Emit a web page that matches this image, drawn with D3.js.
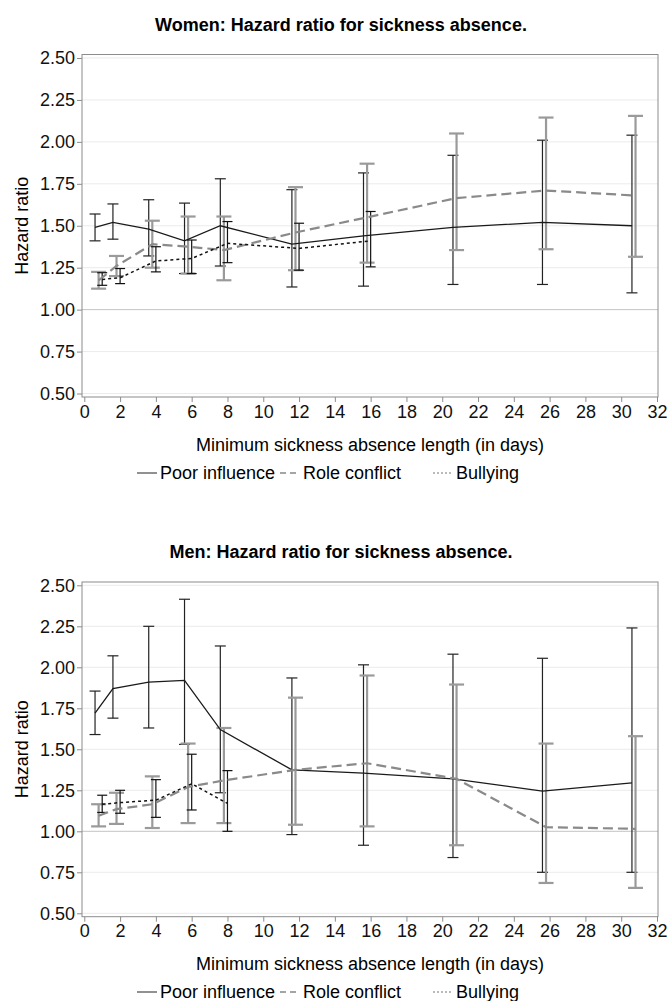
<!DOCTYPE html>
<html>
<head>
<meta charset="utf-8">
<script src="https://cdn.jsdelivr.net/npm/d3@7"></script>
<style>
  body { margin: 0; background: #fff; }
  svg { display: block; font-family: "Liberation Sans", Arial, sans-serif; }
</style>
</head>
<body>
<div id="chart"></div>
<script>
// minimum sickness absence length (days) at which each HR was estimated
const days = [1, 2, 4, 6, 8, 12, 16, 21, 26, 31];
const bullyDaysW = [1, 2, 4, 6, 8, 12, 16];
const bullyDaysM = [1, 2, 4, 6, 8];
const yTicks = [0.5, 0.75, 1.0, 1.25, 1.5, 1.75, 2.0, 2.25, 2.5];
const xTicks = d3.range(0, 33, 2);
const legendLabels = ["Poor influence", "Role conflict", "Bullying"];

// Women
const womenPoorHR = [1.49, 1.52, 1.48, 1.41, 1.50, 1.39, 1.44, 1.49, 1.52, 1.50];
const womenPoorLo = [1.41, 1.42, 1.32, 1.215, 1.26, 1.135, 1.14, 1.15, 1.15, 1.10];
const womenPoorHi = [1.57, 1.63, 1.655, 1.635, 1.78, 1.715, 1.815, 1.92, 2.01, 2.04];
const womenRoleHR = [1.175, 1.26, 1.39, 1.375, 1.355, 1.46, 1.55, 1.665, 1.71, 1.68];
const womenRoleLo = [1.125, 1.20, 1.25, 1.215, 1.175, 1.235, 1.28, 1.355, 1.36, 1.315];
const womenRoleHi = [1.225, 1.32, 1.53, 1.555, 1.555, 1.73, 1.87, 2.05, 2.145, 2.155];
const womenBullyHR = [1.18, 1.19, 1.29, 1.305, 1.395, 1.365, 1.41];
const womenBullyLo = [1.145, 1.155, 1.225, 1.215, 1.28, 1.235, 1.255];
const womenBullyHi = [1.22, 1.245, 1.375, 1.415, 1.525, 1.515, 1.585];

// Men
const menPoorHR = [1.72, 1.87, 1.91, 1.92, 1.62, 1.375, 1.355, 1.32, 1.245, 1.295];
const menPoorLo = [1.59, 1.69, 1.63, 1.53, 1.235, 0.98, 0.915, 0.84, 0.75, 0.75];
const menPoorHi = [1.855, 2.07, 2.25, 2.415, 2.13, 1.935, 2.015, 2.08, 2.055, 2.24];
const menRoleHR = [1.095, 1.135, 1.165, 1.27, 1.31, 1.375, 1.415, 1.32, 1.025, 1.015];
const menRoleLo = [1.03, 1.045, 1.02, 1.05, 1.05, 1.04, 1.03, 0.915, 0.685, 0.655];
const menRoleHi = [1.165, 1.235, 1.335, 1.535, 1.63, 1.815, 1.95, 1.895, 1.535, 1.58];
const menBullyHR = [1.165, 1.175, 1.19, 1.29, 1.17];
const menBullyLo = [1.115, 1.11, 1.085, 1.13, 1.0];
const menBullyHi = [1.22, 1.25, 1.315, 1.47, 1.37];

const W = 668, H = 1001;
const svg = d3.select("#chart").append("svg").attr("width", W).attr("height", H);

const fontSize = 18;
const frameLeft = 82, frameRight = 658;
const x = d3.scaleLinear().domain([0, 32]).range([84.3, 657]);

// series styling (dodge = horizontal shift in days)
const styles = [
  { dodge: -0.4, line: "#1a1a1a", lw: 1.3, dash: null, bar: "#222", bw: 1.2, cap: 11,
    key: "#555", keyW: 1.3, keyDash: null },
  { dodge: -0.2, line: "#8a8a8a", lw: 2.2, dash: "10,5", bar: "#9a9a9a", bw: 2.2, cap: 15,
    key: "#888", keyW: 1.3, keyDash: "6,4" },
  { dodge: 0, line: "#111", lw: 1.5, dash: "3,3", bar: "#111", bw: 1.2, cap: 10,
    key: "#777", keyW: 1.1, keyDash: "2,2" }
];
const legendStarts = [137, 280, 433];

function zip(ds, hr, lo, hi) {
  return ds.map((d, i) => ({ day: d, hr: hr[i], lo: lo[i], hi: hi[i] }));
}

function drawPanel(cfg) {
  const g = svg.append("g");
  const y = d3.scaleLinear().domain([0.5, 2.5]).range([cfg.y05, cfg.y25]);

  // title
  g.append("text")
    .attr("x", 341)
    .attr("y", cfg.titleY)
    .attr("text-anchor", "middle")
    .style("font-size", "18px")
    .style("font-weight", "bold")
    .text(cfg.title);

  // gridlines
  g.selectAll(".grid").data(yTicks).join("line")
    .attr("x1", frameLeft).attr("x2", frameRight)
    .attr("y1", d => y(d)).attr("y2", d => y(d))
    .attr("stroke", d => d === 1 ? "#c4c4c4" : "#ebebeb")
    .attr("stroke-width", 1);

  // frame
  g.append("rect")
    .attr("x", frameLeft).attr("y", cfg.frameTop)
    .attr("width", frameRight - frameLeft)
    .attr("height", cfg.frameBottom - cfg.frameTop)
    .attr("fill", "none").attr("stroke", "#8c8c8c").attr("stroke-width", 1);

  // y axis
  const yAxis = g.append("g").attr("transform", `translate(${frameLeft},0)`)
    .call(d3.axisLeft(y).tickValues(yTicks).tickFormat(d3.format(".2f")).tickSize(5).tickPadding(2));
  yAxis.select(".domain").remove();
  yAxis.selectAll("line").attr("stroke", "#8c8c8c");
  yAxis.selectAll("text").style("font-size", fontSize + "px").attr("fill", "#111")
    .attr("font-family", null);

  // x axis
  const xAxis = g.append("g").attr("transform", `translate(0,${cfg.frameBottom})`)
    .call(d3.axisBottom(x).tickValues(xTicks).tickSize(5).tickPadding(3));
  xAxis.select(".domain").remove();
  xAxis.selectAll("line").attr("stroke", "#8c8c8c");
  xAxis.selectAll("text").style("font-size", fontSize + "px").attr("fill", "#111")
    .attr("font-family", null);

  // axis titles
  g.append("text")
    .attr("x", (frameLeft + frameRight) / 2)
    .attr("y", cfg.xTitleY)
    .attr("text-anchor", "middle")
    .style("font-size", fontSize + "px")
    .text("Minimum sickness absence length (in days)");
  g.append("text")
    .attr("transform", `translate(22,${(cfg.frameTop + cfg.frameBottom) / 2}) rotate(-90)`)
    .attr("text-anchor", "middle")
    .attr("dy", "0.35em")
    .style("font-size", fontSize + "px")
    .text("Hazard ratio");

  // error bars then lines
  cfg.series.forEach((data, si) => {
    const s = styles[si];
    const bars = g.append("g");
    data.forEach(d => {
      const cx = x(d.day + s.dodge);
      bars.append("line")
        .attr("x1", cx).attr("x2", cx).attr("y1", y(d.lo)).attr("y2", y(d.hi))
        .attr("stroke", s.bar).attr("stroke-width", s.bw);
      [d.lo, d.hi].forEach(v => {
        bars.append("line")
          .attr("x1", cx - s.cap / 2).attr("x2", cx + s.cap / 2)
          .attr("y1", y(v)).attr("y2", y(v))
          .attr("stroke", s.bar).attr("stroke-width", s.bw);
      });
    });
  });
  cfg.series.forEach((data, si) => {
    const s = styles[si];
    const line = d3.line().x(d => x(d.day + s.dodge)).y(d => y(d.hr));
    g.append("path").datum(data)
      .attr("d", line)
      .attr("fill", "none")
      .attr("stroke", s.line)
      .attr("stroke-width", s.lw)
      .attr("stroke-dasharray", s.dash);
  });

  // legend
  const leg = g.append("g").attr("transform", `translate(0,${cfg.legendY})`);
  legendLabels.forEach((lab, i) => {
    const s = styles[i];
    const lx = legendStarts[i];
    leg.append("line")
      .attr("x1", lx).attr("x2", lx + 20).attr("y1", -6).attr("y2", -6)
      .attr("stroke", s.key)
      .attr("stroke-width", s.keyW)
      .attr("stroke-dasharray", s.keyDash);
    leg.append("text")
      .attr("x", lx + 23).attr("y", 0)
      .style("font-size", fontSize + "px")
      .text(lab);
  });
}

drawPanel({
  title: "Women: Hazard ratio for sickness absence.",
  titleY: 31,
  frameTop: 54.5, frameBottom: 397,
  y25: 58, y05: 393.5,
  xTitleY: 451, legendY: 479,
  series: [
    zip(days, womenPoorHR, womenPoorLo, womenPoorHi),
    zip(days, womenRoleHR, womenRoleLo, womenRoleHi),
    zip(bullyDaysW, womenBullyHR, womenBullyLo, womenBullyHi)
  ]
});

drawPanel({
  title: "Men: Hazard ratio for sickness absence.",
  titleY: 558,
  frameTop: 582, frameBottom: 916.7,
  y25: 585.3, y05: 913.3,
  xTitleY: 970, legendY: 998,
  series: [
    zip(days, menPoorHR, menPoorLo, menPoorHi),
    zip(days, menRoleHR, menRoleLo, menRoleHi),
    zip(bullyDaysM, menBullyHR, menBullyLo, menBullyHi)
  ]
});
</script>
</body>
</html>
